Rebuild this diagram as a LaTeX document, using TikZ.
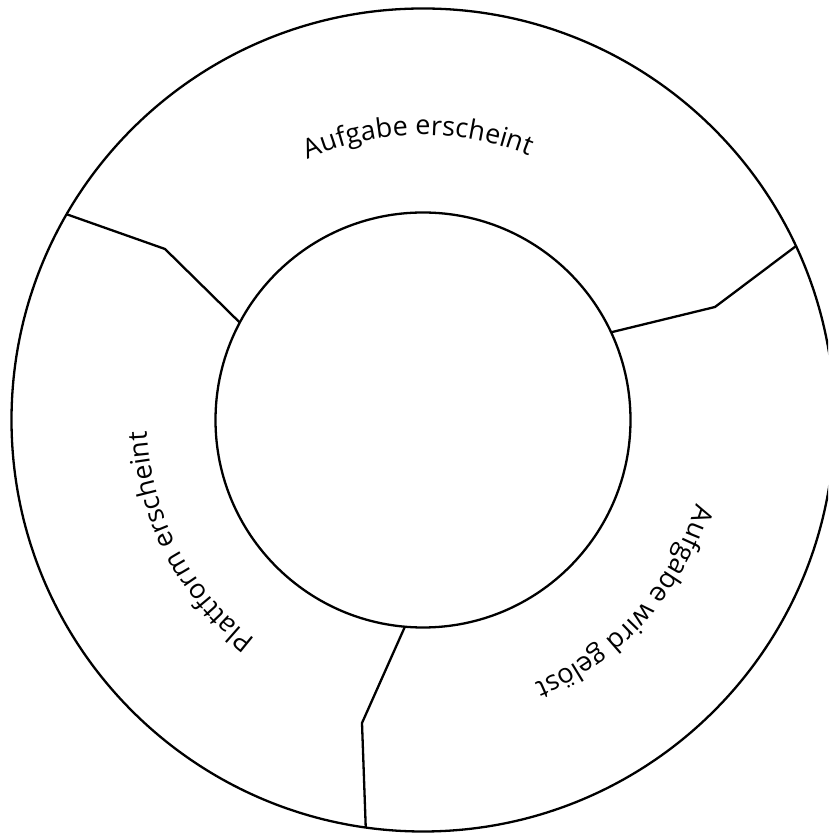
\documentclass[tikz,border=0pt]{standalone}
\usepackage{fontspec}
\newfontfamily\labelfont{Open Sans}
\usetikzlibrary{decorations.text,calc}
\begin{document}
\begin{tikzpicture}[x=1pt,y=1pt,
  ring/.style={draw=black,line width=2.3pt,circle,inner sep=0pt,outer sep=0pt},
  divider/.style={draw=black,line width=2.3pt,line join=miter},
  arclabel/.style={decorate,decoration={text along path,text align=center,
     text format delimiters={|}{|}}}]
\useasboundingbox (0,0) rectangle (828,834);
\clip (0,0) rectangle (828,834);
\coordinate (C) at (423,414);
\node[ring,minimum size=823pt] (outer) at (C) {};
\node[ring,minimum size=415pt] (inner) at (C) {};
% dividers
\coordinate (b1) at (165,585);
\coordinate (b2) at (715,527);
\coordinate (b3) at (362,111);
\draw[divider] (outer.150.8) -- (b1) -- (inner.152.2);
\draw[divider] (outer.25.9) -- (b2) -- (inner.25.95);
\draw[divider] (inner.265.9) -- (b3) -- (outer.262.5);
% labels along arcs
\path[arclabel,decoration={text={|\labelfont\fontsize{27}{32}\selectfont|Aufgabe erscheint}}]
  ($(C)+(125:285)$) arc[start angle=125,end angle=57,radius=285];
\path[arclabel,decoration={text={|\labelfont\fontsize{27}{32}\selectfont|Plattform erscheint}}]
  ($(C)+(242:276)$) arc[start angle=242,end angle=173,radius=276];
\path[arclabel,decoration={text={|\labelfont\fontsize{27}{32}\selectfont|Aufgabe wird gelöst}}]
  ($(C)+(-9:286)$) arc[start angle=-9,end angle=-75,radius=286];
\end{tikzpicture}
\end{document}
